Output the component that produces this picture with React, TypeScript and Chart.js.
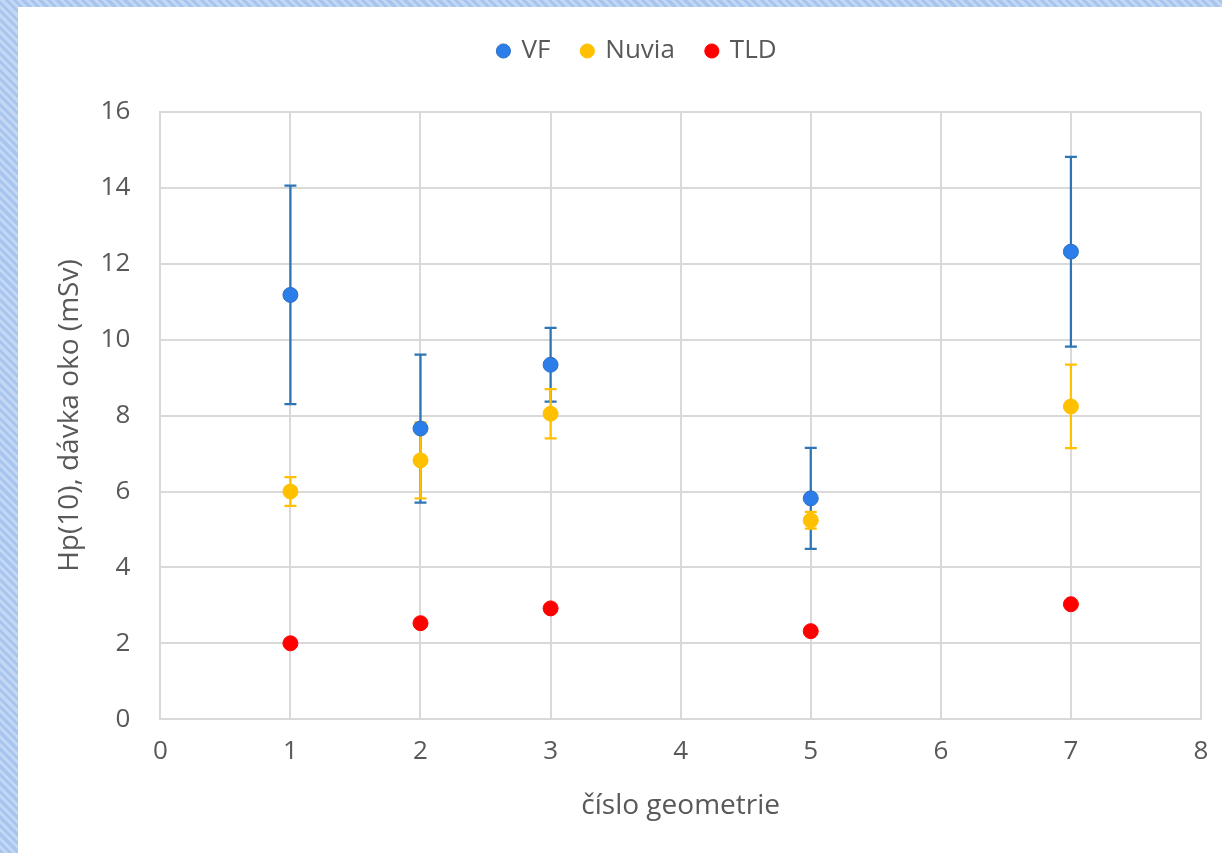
import React, { useEffect, useRef } from "react";
import { Chart, registerables } from "chart.js";
Chart.register(...registerables);

const xValues = [1, 2, 3, 5, 7];
const vfValues = [11.18, 7.66, 9.34, 5.82, 12.32];
const vfErrors = [2.88, 1.95, 0.97, 1.33, 2.5];
const nuviaValues = [6.0, 6.82, 8.05, 5.24, 8.24];
const nuviaErrors = [0.38, 1.0, 0.65, 0.22, 1.1];
const tldValues = [2.0, 2.53, 2.92, 2.32, 3.03];
const seriesNames = ["VF", "Nuvia", "TLD"];
const xTitle = "číslo geometrie";
const yTitle = "Hp(10), dávka oko (mSv)";

const FONT = "'Open Sans', 'Liberation Sans', sans-serif";
const TEXT = "#595959";
const GRID = "#d9d9d9";
const LEGEND_EXTRA = 38;
const LEGEND_SHIFT = 28;

const errorBarPlugin = {
  id: "errorBars",
  beforeDatasetsDraw(chart: any) {
    const ctx = chart.ctx;
    const xs = chart.scales.x;
    const ys = chart.scales.y;
    chart.data.datasets.forEach((ds: any, di: number) => {
      if (!ds.errors || !chart.isDatasetVisible(di)) return;
      ctx.save();
      ctx.strokeStyle = ds.errorColor;
      ctx.lineWidth = 2.25;
      ds.data.forEach((p: any, i: number) => {
        const e = ds.errors[i];
        const x = xs.getPixelForValue(p.x);
        const yt = ys.getPixelForValue(p.y + e);
        const yb = ys.getPixelForValue(p.y - e);
        ctx.beginPath();
        ctx.moveTo(x, yt);
        ctx.lineTo(x, yb);
        ctx.moveTo(x - 6, yt);
        ctx.lineTo(x + 6, yt);
        ctx.moveTo(x - 6, yb);
        ctx.lineTo(x + 6, yb);
        ctx.stroke();
      });
      ctx.restore();
    });
  },
};

const legendSpacer = {
  id: "legendSpacer",
  beforeInit(chart: any) {
    const legend = chart.legend;
    if (!legend) return;
    const origFit = legend.fit;
    legend.fit = function () {
      origFit.call(this);
      this.height += LEGEND_EXTRA;
    };
    const origDraw = legend.draw;
    legend.draw = function () {
      const ctx = this.ctx;
      ctx.save();
      ctx.translate(LEGEND_SHIFT, 0);
      origDraw.call(this);
      ctx.restore();
    };
  },
};

const toPoints = (ys: number[]) => xValues.map((x, i) => ({ x, y: ys[i] }));

export default function App() {
  const ref = useRef<HTMLCanvasElement>(null);
  useEffect(() => {
    const chart = new Chart(ref.current!, {
      type: "scatter",
      data: {
        datasets: [
          {
            label: seriesNames[0],
            data: toPoints(vfValues),
            errors: vfErrors,
            errorColor: "#2E75B6",
            backgroundColor: "#2B7DE9",
            borderColor: "#2E6FBF",
            borderWidth: 1,
            pointRadius: 7.5,
          } as any,
          {
            label: seriesNames[1],
            data: toPoints(nuviaValues),
            errors: nuviaErrors,
            errorColor: "#FFC000",
            backgroundColor: "#FFC000",
            borderColor: "#FFC000",
            borderWidth: 1,
            pointRadius: 7.5,
          } as any,
          {
            label: seriesNames[2],
            data: toPoints(tldValues),
            backgroundColor: "#FF0000",
            borderColor: "#FF0000",
            borderWidth: 1,
            pointRadius: 7.5,
          } as any,
        ],
      },
      options: {
        animation: false,
        responsive: false,
        layout: { padding: { left: 0, right: 21, top: -1, bottom: 0 } },
        plugins: {
          tooltip: { enabled: false },
          legend: {
            position: "top",
            labels: {
              usePointStyle: true,
              pointStyle: "circle",
              boxWidth: 10,
              boxHeight: 10,
              padding: 32,
              color: TEXT,
              font: { family: FONT, size: 26 },
            },
          },
        },
        scales: {
          x: {
            type: "linear",
            min: 0,
            max: 8,
            ticks: { stepSize: 1, color: TEXT, font: { family: FONT, size: 26 }, padding: 0 },
            grid: { color: GRID, lineWidth: 2, drawTicks: true, tickLength: 17, tickColor: "rgba(0,0,0,0)" },
            border: { color: GRID, width: 2 },
            title: {
              display: true,
              text: xTitle,
              color: TEXT,
              font: { family: FONT, size: 28 },
              padding: { top: 22, bottom: 30 },
            },
          },
          y: {
            type: "linear",
            min: 0,
            max: 16,
            ticks: { stepSize: 2, color: TEXT, font: { family: FONT, size: 26 }, padding: 0 },
            grid: { color: GRID, lineWidth: 2, drawTicks: true, tickLength: 30, tickColor: "rgba(0,0,0,0)" },
            border: { color: GRID, width: 2 },
            title: {
              display: true,
              text: yTitle,
              color: TEXT,
              font: { family: FONT, size: 28 },
              padding: { top: 35, bottom: 14 },
            },
          },
        },
      } as any,
      plugins: [errorBarPlugin, legendSpacer],
    });
    return () => chart.destroy();
  }, []);

  return (
    <div
      style={{
        position: "fixed",
        left: 0,
        top: 0,
        width: 1222,
        height: 853,
        background:
          "repeating-linear-gradient(45deg, #a8c5ef 0px, #a8c5ef 3px, #c3d7f5 3px, #c3d7f5 6px)",
        overflow: "hidden",
      }}
    >
      <div style={{ position: "absolute", left: 18, top: 7, width: 1204, height: 846, background: "#fff" }}>
        <canvas ref={ref} width={1204} height={846} style={{ display: "block" }} />
      </div>
    </div>
  );
}
